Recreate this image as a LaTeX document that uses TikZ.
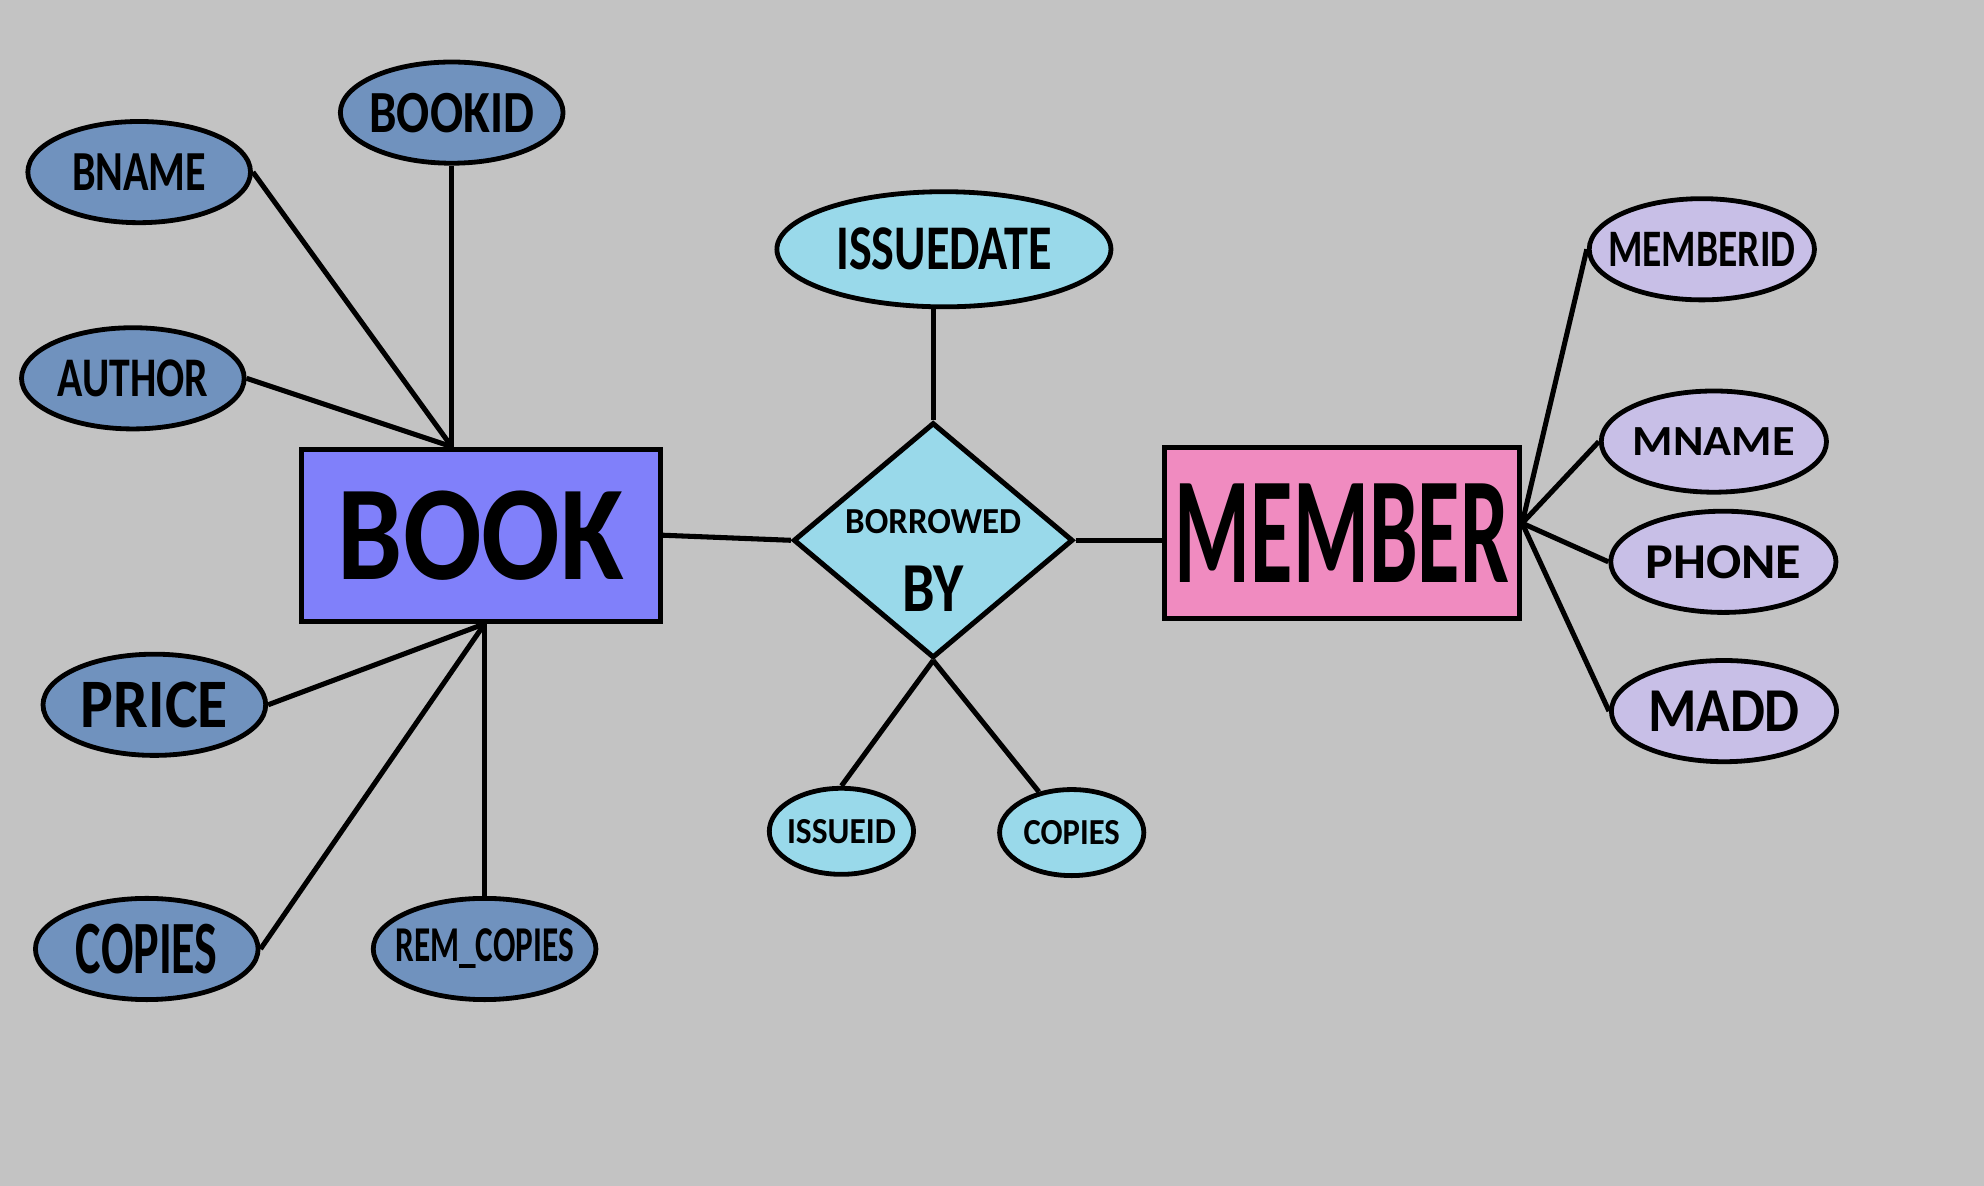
\documentclass[tikz,border=0pt]{standalone}
\usepackage{graphicx}
\usepackage{fontspec}
\setmainfont{Carlito}
\usetikzlibrary{shapes.geometric}
\definecolor{bggray}{HTML}{C3C3C3}
\definecolor{bluegray}{HTML}{7092BE}
\definecolor{bookblue}{HTML}{8080FA}
\definecolor{memberpink}{HTML}{F08BC0}
\definecolor{turquoise}{HTML}{99D9EA}
\definecolor{lavender}{HTML}{C8BFE7}
\newcommand{\fitlabel}[3]{\resizebox{#1pt}{#2pt}{\bfseries #3}}

\begin{document}
\begin{tikzpicture}[x=0.5pt, y=-0.5pt,
      attr/.style={draw, ellipse, line width=1.9pt, inner sep=0pt},
      bookattr/.style={attr, fill=bluegray, minimum width=88pt, minimum height=40pt},
      memattr/.style={attr, fill=lavender, minimum width=89pt, minimum height=40pt},
      relattr/.style={attr, fill=turquoise},
      entity/.style={draw, rectangle, line width=2pt, inner sep=0pt},
      link/.style={draw, line width=2pt}]
    \fill[bggray] (0,0) rectangle (1568,937);
    \useasboundingbox (0,0) rectangle (1568,937);

    \node[entity, fill=bookblue, minimum width=142pt, minimum height=68pt,
          label=center:{\fitlabel{113}{35}{BOOK}}] (book) at (380,423) {};
    \node[entity, fill=memberpink, minimum width=140.5pt, minimum height=67.5pt,
          label=center:{\fitlabel{132}{39}{MEMBER}}] (member) at (1060.5,421.5) {};
    \node[draw, diamond, fill=turquoise, line width=2pt, inner sep=0pt,
          minimum width=110.5pt, minimum height=93pt,
          label={[yshift=7.5pt]center:{\fitlabel{69.5}{9.5}{BORROWED}}},
          label={[yshift=-19pt]center:{\fitlabel{24}{18}{BY}}}] (borrow) at (737.5,427) {};

    \node[bookattr, label=center:{\fitlabel{65}{15.5}{BOOKID}}] (bookid) at (357,89) {};
    \node[bookattr, label=center:{\fitlabel{53}{14.5}{BNAME}}] (bname) at (110,136) {};
    \node[bookattr, label=center:{\fitlabel{59.5}{14.5}{AUTHOR}}] (author) at (105,299) {};
    \node[bookattr, label=center:{\fitlabel{58}{18}{PRICE}}] (price) at (122,557) {};
    \node[bookattr, label=center:{\fitlabel{56}{19.5}{COPIES}}] (copies) at (116,750) {};
    \node[bookattr, label=center:{\fitlabel{70.5}{13}{REM\_COPIES}}] (remcopies) at (383,750) {};

    \node[relattr, minimum width=132pt, minimum height=45.5pt,
          label=center:{\fitlabel{85}{16.5}{ISSUEDATE}}] (issuedate) at (746,197) {};
    \node[relattr, minimum width=57pt, minimum height=34pt,
          label=center:{\fitlabel{43}{9.5}{ISSUEID}}] (issueid) at (665,657) {};
    \node[relattr, minimum width=57pt, minimum height=34pt,
          label=center:{\fitlabel{38}{9.5}{COPIES}}] (relcopies) at (847,658) {};

    \node[memattr, label=center:{\fitlabel{74}{13.5}{MEMBERID}}] (memberid) at (1345,197) {};
    \node[memattr, label=center:{\fitlabel{64}{11}{MNAME}}] (mname) at (1354.5,349) {};
    \node[memattr, label=center:{\fitlabel{61.5}{13}{PHONE}}] (phone) at (1362,444) {};
    \node[memattr, label=center:{\fitlabel{60}{16}{MADD}}] (madd) at (1362.5,562) {};

    \coordinate (booktop) at (bookid.south |- book.north);
    \coordinate (bookbot) at (remcopies.north |- book.south);
    \coordinate (memjoin) at ([yshift=4pt]member.east);

    \draw[link] (bookid.south) -- (booktop);
    \draw[link] (bname.east) -- (booktop);
    \draw[link] (author.east) -- (booktop);
    \draw[link] (price.east) -- (bookbot);
    \draw[link] (copies.east) -- (bookbot);
    \draw[link] (remcopies.north) -- (bookbot);
    \draw[link] (book.east) -- (borrow.west);
    \draw[link] (borrow.east) -- (borrow.east -| member.west);
    \draw[link] (borrow.north) -- (borrow.north |- issuedate.south);
    \draw[link] (borrow.south) -- (issueid.north);
    \draw[link] (borrow.south) -- (relcopies);
    \draw[link] (memjoin) -- (memberid.west);
    \draw[link] (memjoin) -- (mname.west);
    \draw[link] (memjoin) -- (phone.west);
    \draw[link] (memjoin) -- (madd.west);
\end{tikzpicture}
\end{document}
